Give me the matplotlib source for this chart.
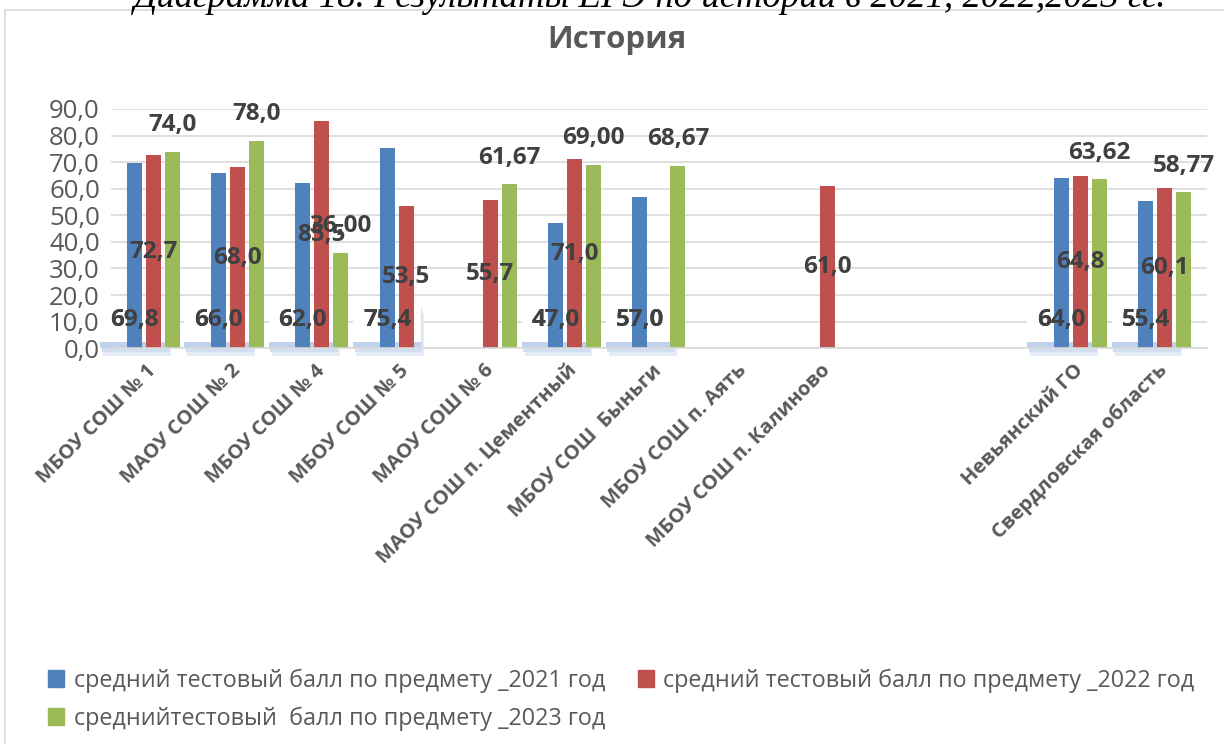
import numpy as np
import matplotlib
matplotlib.use('Agg')
import matplotlib.pyplot as plt
from matplotlib.patches import Patch, Rectangle
import matplotlib.patheffects as pe

plt.rcParams['font.family'] = ['Open Sans', 'DejaVu Sans']

# data
categories = ['МБОУ СОШ № 1', 'МАОУ СОШ № 2', 'МБОУ СОШ № 4', 'МБОУ СОШ № 5',
              'МАОУ СОШ № 6', 'МАОУ СОШ п. Цементный', 'МБОУ СОШ  Быньги',
              'МБОУ СОШ п. Аять', 'МБОУ СОШ п. Калиново', '', '',
              'Невьянский ГО', 'Свердловская область']
nan = np.nan
score_2021 = [69.8, 66.0, 62.0, 75.4, nan, 47.0, 57.0, nan, nan, nan, nan, 64.0, 55.4]
score_2022 = [72.7, 68.0, 85.5, 53.5, 55.7, 71.0, nan, nan, 61.0, nan, nan, 64.8, 60.1]
score_2023 = [74.0, 78.0, 36.0, nan, 61.67, 69.0, 68.67, nan, nan, nan, nan, 63.62, 58.77]
decimals_2023 = [1, 1, 2, 2, 2, 2, 2, 2, 2, 2, 2, 2, 2]
series_names = ['средний тестовый балл по предмету _2021 год',
                'средний тестовый балл по предмету _2022 год',
                'среднийтестовый  балл по предмету _2023 год']
yticks = np.arange(0, 91, 10)

c_blue, c_red, c_green = '#4F81BD', '#C0504D', '#9BBB59'
txt_gray = '#595959'
lbl_dark = '#404040'
LBL_FS = 17.5


def fmt(v, d=1):
    return f'{v:.{d}f}'.replace('.', ',')


fig = plt.figure(figsize=(12.24, 7.44), dpi=100)
ax = fig.add_axes([0.0907, 0.532, 0.8953, 0.3215])

x = np.arange(len(categories))
w = 0.178
step = 0.225

ax.bar(x - step, score_2021, w, color=c_blue, zorder=2)
ax.bar(x, score_2022, w, color=c_red, zorder=2)
ax.bar(x + step, score_2023, w, color=c_green, zorder=2)

# soft bluish glow under the 2021 label boxes
glow = [pe.SimplePatchShadow(offset=(2, -10), shadow_rgbFace='#e4ecf7', alpha=1.0),
        pe.SimplePatchShadow(offset=(1, -7), shadow_rgbFace='#d2dff1', alpha=1.0),
        pe.SimplePatchShadow(offset=(0, -4), shadow_rgbFace='#bfd1eb', alpha=1.0),
        pe.Normal()]

# data labels
for i in range(len(categories)):
    v = score_2021[i]
    if not np.isnan(v):
        box = ax.annotate(fmt(v), (x[i] - step, 0), xytext=(0, 20), textcoords='offset points',
                          ha='center', va='center', fontsize=LBL_FS, fontweight='bold',
                          color=lbl_dark, zorder=1.5,
                          bbox=dict(boxstyle='square,pad=0.4', fc='white', ec='none'))
        box.get_bbox_patch().set_path_effects(glow)
        ax.annotate(fmt(v), (x[i] - step, 0), xytext=(0, 20), textcoords='offset points',
                    ha='center', va='center', fontsize=LBL_FS, fontweight='bold', color=lbl_dark,
                    zorder=4)
    v = score_2022[i]
    if not np.isnan(v):
        ax.text(x[i], v / 2, fmt(v), ha='center', va='center', fontsize=LBL_FS,
                fontweight='bold', color=lbl_dark, zorder=4)
    v = score_2023[i]
    if not np.isnan(v):
        ax.annotate(fmt(v, decimals_2023[i]), (x[i] + step, v), xytext=(0, 19),
                    textcoords='offset points', ha='center', va='center', fontsize=LBL_FS,
                    fontweight='bold', color=lbl_dark, zorder=4)

ax.set_xlim(-0.5, len(categories) - 0.5)
ax.set_ylim(0, 90)
ax.set_yticks(yticks)
ax.set_yticklabels([fmt(t) for t in yticks], fontsize=18.5, color=txt_gray)
ax.set_xticks(x)
ax.set_xticklabels(categories, rotation=45, ha='right', va='center', rotation_mode='anchor',
                   fontsize=14.5, fontweight='bold', color=txt_gray)
ax.tick_params(axis='both', length=0)
ax.tick_params(axis='x', pad=14)
ax.tick_params(axis='y', pad=8)
ax.grid(axis='y', color='#D9D9D9', linewidth=1.2, zorder=0)
ax.set_axisbelow(True)
for s in ['top', 'right', 'left']:
    ax.spines[s].set_visible(False)
ax.spines['bottom'].set_color('#D9D9D9')
ax.spines['bottom'].set_linewidth(1.2)

fig.text(0.504, 1 - 40 / 744, 'История', ha='center', va='center', fontsize=22.5,
         fontweight='bold', color=txt_gray)

# cut caption at the top
fig.text(0.531, 1 - 7 / 744, 'Диаграмма 18. Результаты ЕГЭ по истории в 2021, 2022,2023 гг.',
         ha='center', va='baseline', fontsize=26.5, style='italic',
         family=['Liberation Serif', 'DejaVu Serif'], color='black')

# chart frame
fig.patches.append(Rectangle((5 / 1224, -0.1), 1.2, 1.1 - 10 / 744, transform=fig.transFigure,
                             fill=False, ec='#D9D9D9', lw=1.2))

handles = [Patch(color=c_blue), Patch(color=c_green), Patch(color=c_red)]
labels = [series_names[0], series_names[2], series_names[1]]
fig.legend(handles, labels, ncol=2, loc='upper left', bbox_to_anchor=(0.022, 0.13),
           frameon=False, fontsize=16.8, labelcolor=txt_gray, handlelength=0.7,
           handleheight=0.7, handletextpad=0.4, columnspacing=1.4, labelspacing=0.58)

fig.savefig('out.png', dpi=100)
